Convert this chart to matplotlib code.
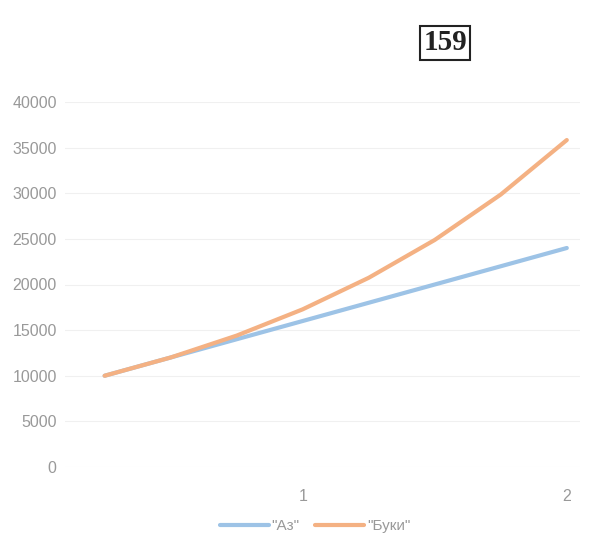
import matplotlib.pyplot as plt

# quarters of the period (x), deposit amounts for the two banks
periods = [0.25, 0.5, 0.75, 1.0, 1.25, 1.5, 1.75, 2.0]
az = [10000, 12000, 14000, 16000, 18000, 20000, 22000, 24000]
buki = [10000, 12000, 14400, 17280, 20736, 24883, 29860, 35832]
series_names = ['"Аз"', '"Буки"']
x_ticks = [1, 2]
y_ticks = [0, 5000, 10000, 15000, 20000, 25000, 30000, 35000, 40000]

plt.rcParams['font.family'] = ['Liberation Sans', 'DejaVu Sans']

fig = plt.figure(figsize=(5.89, 5.41), dpi=100)
ax = fig.add_axes([65 / 589, 1 - 467 / 541, 515 / 589, 365 / 541])

ax.plot(periods, az, color='#9dc3e6', linewidth=3, solid_capstyle='round', label=series_names[0])
ax.plot(periods, buki, color='#f4b183', linewidth=3, solid_capstyle='round', label=series_names[1])

ax.set_xlim(0.1, 2.05)
ax.set_ylim(0, 40000)
ax.set_xticks(x_ticks)
ax.set_xticklabels([str(t) for t in x_ticks])
ax.set_yticks(y_ticks)
ax.tick_params(length=0, labelsize=11.5, labelcolor='#999999')
ax.tick_params(axis='x', pad=16)
ax.tick_params(axis='y', pad=6)
ax.grid(axis='y', color='#f0f0f0', linewidth=0.8)
ax.set_axisbelow(True)
for s in ax.spines.values():
    s.set_visible(False)

leg = fig.legend(loc='center', bbox_to_anchor=(0.535, 0.028), ncol=2, frameon=False,
                 fontsize=11, handlelength=3.2, columnspacing=1.0, handletextpad=0.2)
for t in leg.get_texts():
    t.set_color('#999999')

# page number box from the textbook scan
fig.text(445 / 589, 1 - 43 / 541, '159', fontsize=21, fontweight='bold',
         family='Liberation Serif', color='#222222', ha='center', va='center',
         bbox=dict(boxstyle='square,pad=0.12', facecolor='white', edgecolor='#222222', linewidth=1.5))

fig.savefig('out.png', dpi=100)
